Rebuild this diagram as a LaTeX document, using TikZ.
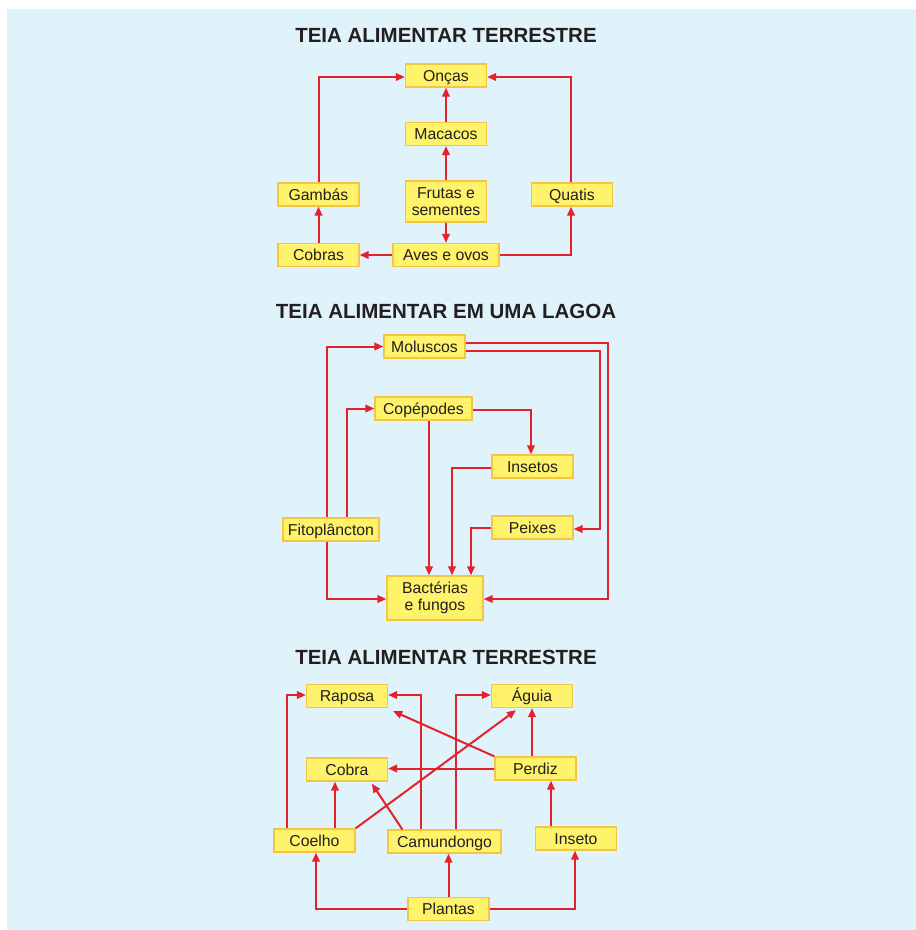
\documentclass[tikz,border=0pt]{standalone}
\usepackage{fontspec}
\setmainfont{Liberation Sans}
\usetikzlibrary{arrows.meta}
\definecolor{bgblue}{HTML}{E0F3FA}
\definecolor{boxfill}{HTML}{FFF36B}
\definecolor{boxline}{HTML}{F5C440}
\definecolor{arrred}{HTML}{E4222C}
\definecolor{txt}{HTML}{231F20}
\tikzset{
  box/.style={draw=boxline, fill=boxfill, line width=1.3pt, inner sep=0pt,
    minimum width=81pt, minimum height=23pt, text=txt,
    font=\fontsize{15.8}{17.5}\selectfont, align=center},
  one/.style={text height=12pt, text depth=0.5pt},
  ttl/.style={text=txt, font=\fontsize{20.5}{22}\selectfont\bfseries},
  arr/.style={draw=arrred, line width=2pt, -{Triangle[length=9pt,width=7.5pt]}}
}
\begin{document}
\begin{tikzpicture}[x=1pt,y=-1pt]
\useasboundingbox (0,0) rectangle (916,930);
\fill[bgblue] (7,9) rectangle (916,930);

% ---------- section 1 ----------
\node[ttl] (t1) at (446,35) {TEIA ALIMENTAR TERRESTRE};
\node[box,one] (oncas) at (446,75.5) {Onças};
\node[box,one] (macacos) at (446,134) {Macacos};
\node[box, minimum height=41pt] (frutas) at (446,201.5) {Frutas e\\sementes};
\node[box,one] (gambas) at (318.5,194.5) {Gambás};
\node[box,one] (quatis) at (572,194.5) {Quatis};
\node[box,one] (cobras) at (318.5,255) {Cobras};
\node[box,one, minimum width=106pt] (aves) at (446,255) {Aves e ovos};

\draw[arr] (macacos.north) -- (oncas.south);
\draw[arr] (frutas.north) -- (macacos.south);
\draw[arr] (frutas.south) -- (aves.north);
\draw[arr] (cobras.north) -- (gambas.south);
\draw[arr] (aves.west) -- (cobras.east);
\draw[arr] (aves.east) -| ([xshift=-1pt]quatis.south);
\draw[arr] (gambas.north) |- ([yshift=-1.5pt]oncas.west);
\draw[arr] ([xshift=-1pt]quatis.north) |- ([yshift=-1.5pt]oncas.east);

% ---------- section 2 ----------
\node[ttl] (t2) at (446,311) {TEIA ALIMENTAR EM UMA LAGOA};
\node[box,one] (moluscos) at (424.5,346.5) {Moluscos};
\node[box,one, minimum width=97pt] (cop) at (423.5,408.5) {Copépodes};
\node[box,one] (insetos) at (532.5,466.5) {Insetos};
\node[box,one] (peixes) at (532.5,527.5) {Peixes};
\node[box,one, minimum width=96pt] (fito) at (331,529.5) {Fitoplâncton};
\node[box, minimum width=96pt, minimum height=44pt] (bact) at (435,598) {Bactérias\\e fungos};

\draw[arr] ([xshift=-4pt]fito.north) |- (moluscos.west);
\draw[arr] ([xshift=16pt]fito.north) |- (cop.west);
\draw[arr] ([xshift=-4pt]fito.south) |- ([yshift=-1pt]bact.west);
\draw[arr] ([yshift=3.5pt]moluscos.east) -- ++(142,0) |- ([yshift=-1pt]bact.east);
\draw[arr] ([yshift=-4.5pt]moluscos.east) -- ++(134,0) |- ([yshift=-1.5pt]peixes.east);
\draw[arr] ([yshift=-1.5pt]cop.east) -| ([xshift=-1.5pt]insetos.north);
\draw[arr] ([xshift=5.5pt]cop.south) -- ([xshift=5.5pt]cop.south |- bact.north);
\draw[arr] ([yshift=-1.5pt]insetos.west) -| ([xshift=17pt]bact.north);
\draw[arr] (peixes.west) -| ([xshift=36pt]bact.north);

% ---------- section 3 ----------
\node[ttl] (t3) at (446,657) {TEIA ALIMENTAR TERRESTRE};
\node[box,one] (raposa) at (347,696) {Raposa};
\node[box,one] (aguia) at (532,696) {Águia};
\node[box,one] (cobra) at (347,769.5) {Cobra};
\node[box,one] (perdiz) at (535.5,768.5) {Perdiz};
\node[box,one] (coelho) at (314.5,840.5) {Coelho};
\node[box,one, minimum width=113pt] (camundongo) at (444.5,841.5) {Camundongo};
\node[box,one] (inseto) at (576,838.5) {Inseto};
\node[box,one] (plantas) at (448.5,909) {Plantas};

\draw[arr] ([xshift=-27.5pt]coelho.north) |- ([yshift=1pt]raposa.west);
\draw[arr] ([xshift=-23.5pt]camundongo.north) |- ([yshift=1pt]raposa.east);
\draw[arr] ([xshift=11.5pt]camundongo.north) |- ([yshift=1pt]aguia.west);
\draw[arr] (aguia.south |- perdiz.north) -- (aguia.south);
\draw[arr] (perdiz.north west) -- ([xshift=5pt,yshift=-3pt]raposa.south east);
\draw[arr] (perdiz.west) -- (perdiz.west -| cobra.east);
\draw[arr] ([xshift=20.5pt]coelho.north) -- ([xshift=20.5pt]coelho.north |- cobra.south);
\draw[arr] (coelho.north east) -- ([xshift=-16pt,yshift=-2pt]aguia.south);
\draw[arr] ([xshift=15pt]camundongo.north west) -- ([xshift=66pt,yshift=-2pt]cobra.south west);
\draw[arr] (plantas.west) -| ([xshift=1.5pt]coelho.south);
\draw[arr] (plantas.north) -- (plantas.north |- camundongo.south);
\draw[arr] (plantas.east) -| ([xshift=-1pt]inseto.south);
\draw[arr] ([xshift=-25pt]inseto.north) -- ([xshift=-25pt]inseto.north |- perdiz.south);
\end{tikzpicture}
\end{document}
